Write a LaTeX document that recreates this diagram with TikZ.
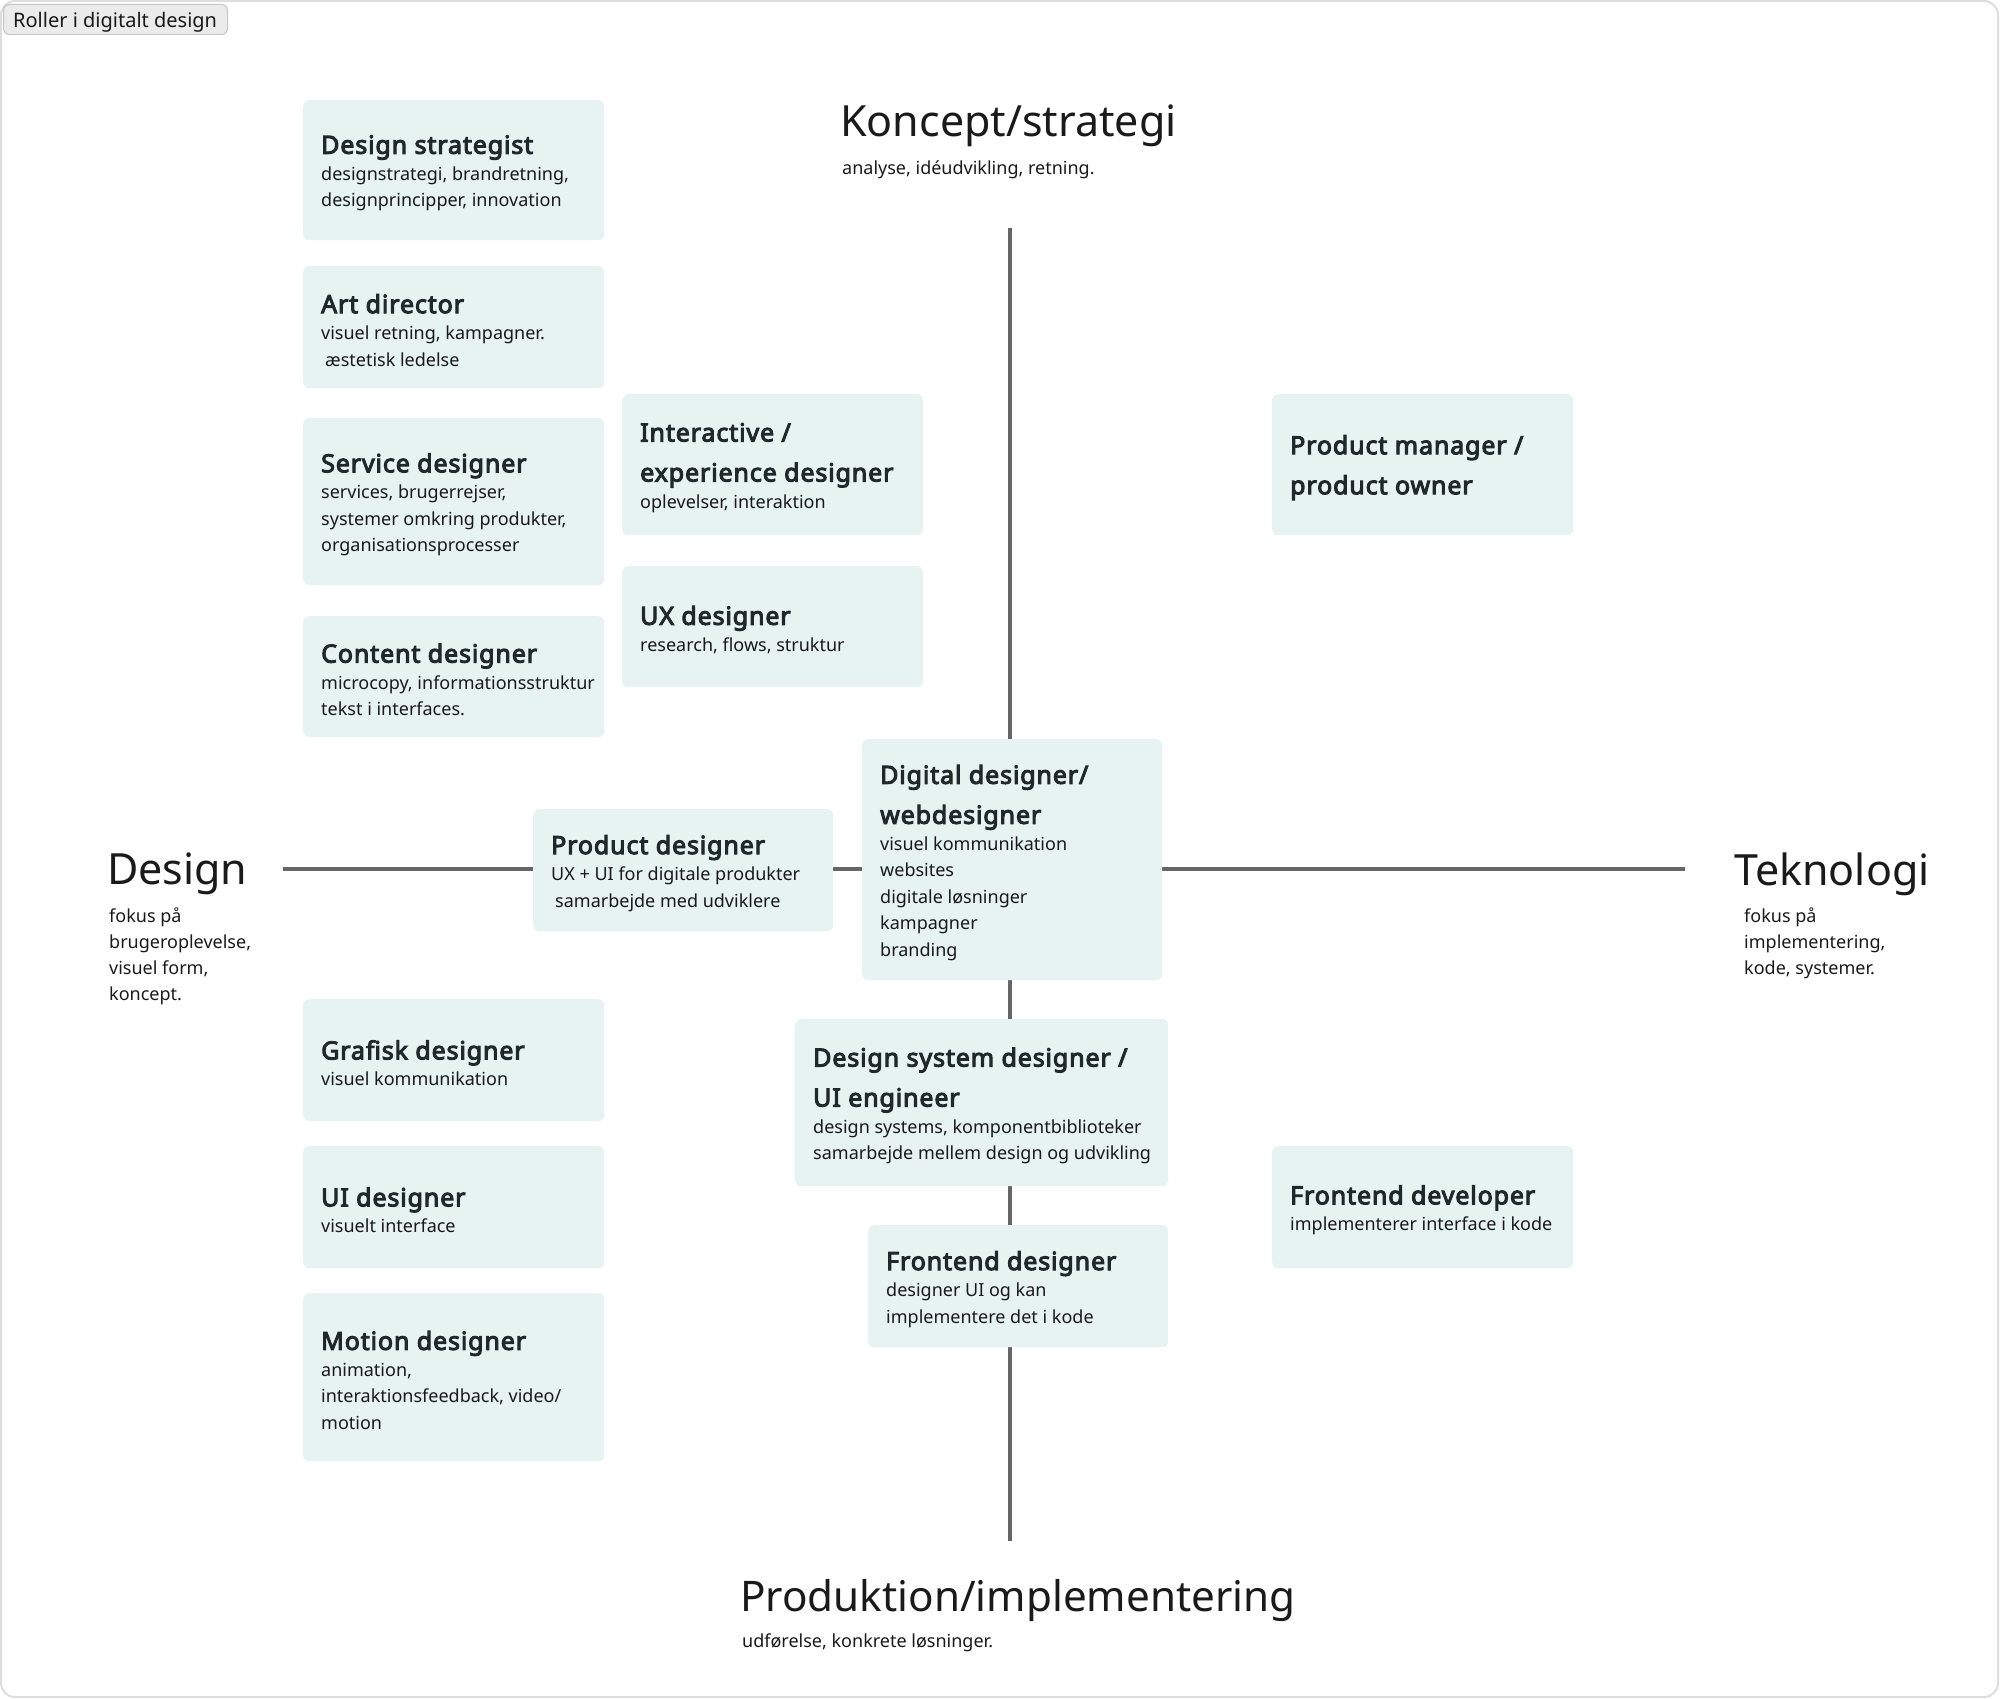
\documentclass[tikz,border=0pt]{standalone}
\usepackage{fontspec}
\setmainfont{Noto Sans}[AutoFakeBold=2.2]
\newfontfamily\rtfont{Noto Sans}[FakeBold=4, LetterSpace=3.5]
\definecolor{boxfill}{HTML}{E6F3F1}
\definecolor{titlecol}{HTML}{1F2929}
\definecolor{txt}{HTML}{1A1A1A}
\definecolor{axiscol}{HTML}{666666}
\definecolor{framecol}{HTML}{DDDDDD}
\definecolor{btnfill}{HTML}{EBEBEB}
\definecolor{btndraw}{HTML}{C6C6C6}
\newcommand\roletitle[1]{{\rtfont\fontsize{25}{40}\selectfont\color{titlecol}#1\par}}
\newcommand\rolesub[1]{{\fontsize{18}{26.5}\selectfont\color{txt}#1\par}}
\newcommand\rolebox[7]{%
  \node[rolebg, minimum width=#4pt, minimum height=#5pt] (#1) at (#2,#3) {};
  \node[roletext] (#1-t) at ([xshift=18pt,yshift=-3pt]#1.west) {\parbox[t]{400pt}{\raggedright #6#7}};
}
\tikzset{
  rolebg/.style={rectangle, fill=boxfill, rounded corners=6pt, anchor=north west, inner sep=0pt, draw=none},
  roletext/.style={anchor=west, inner sep=0pt},
  axlabel/.style={anchor=base west, inner sep=0pt, text=txt, font=\fontsize{43}{50}\selectfont},
  axsub/.style={anchor=base west, inner sep=0pt, text=txt, font=\fontsize{18}{26}\selectfont},
  axisline/.style={draw=axiscol, line width=4pt},
}
\begin{document}
\begin{tikzpicture}[x=1pt, y=-1pt]
\useasboundingbox (0,0) rectangle (2000,1699);
\draw[framecol, line width=2pt, rounded corners=14pt] (1,1) rectangle (1998,1697);
\node[draw=btndraw, fill=btnfill, line width=1pt, rounded corners=6pt, anchor=north west,
      minimum width=224pt, minimum height=30pt, inner sep=0pt] (btn) at (3,4) {};
\node[anchor=base west, inner sep=0pt, text=txt, font=\fontsize{20}{24}\selectfont] (btn-t) at (13,27.5) {Roller i digitalt design};

% axes
\coordinate (vtop) at (1010,228);
\coordinate (vbot) at (1010,1541);
\coordinate (hleft) at (283,868.5);
\coordinate (hright) at (1685,868.5);
\draw[axisline] (vtop) -- (vbot);
\draw[axisline] (hleft) -- (hright);

% axis labels
\node[axlabel] (koncept) at (840,137) {Koncept/strategi};
\node[axsub] (koncept-s) at (842,175) {analyse, idéudvikling, retning.};
\node[axlabel] (design) at (107,884) {Design};
\node[axsub] (design-s) at (109,922) {\parbox[t]{200pt}{\raggedright fokus på\\brugeroplevelse,\\visuel form,\\koncept.}};
\node[axlabel] (tekno) at (1734,885) {Teknologi};
\node[axsub] (tekno-s) at (1744,922) {\parbox[t]{200pt}{\raggedright fokus på\\implementering,\\kode, systemer.}};
\node[axlabel, font=\fontsize{42.2}{50}\selectfont] (prod) at (740,1611) {Produktion/implementering};
\node[axsub] (prod-s) at (742,1647) {udførelse, konkrete løsninger.};

% role boxes
\rolebox{strat}{303}{100}{301}{140}{\roletitle{Design strategist}}{\rolesub{designstrategi, brandretning,\\designprincipper, innovation}}
\rolebox{art}{303}{266}{301}{122}{\roletitle{Art director}}{\rolesub{visuel retning, kampagner.\\\hspace*{4pt}æstetisk ledelse}}
\rolebox{service}{303}{418}{301}{167}{\roletitle{Service designer}}{\rolesub{services, brugerrejser,\\systemer omkring produkter,\\organisationsprocesser}}
\rolebox{content}{303}{616}{301}{121}{\roletitle{Content designer}}{\rolesub{microcopy, informationsstruktur\\tekst i interfaces.}}
\rolebox{inter}{622}{394}{301}{141}{\roletitle{Interactive /\\experience designer}}{\rolesub{oplevelser, interaktion}}
\rolebox{ux}{622}{566}{301}{121}{\roletitle{UX designer}}{\rolesub{research, flows, struktur}}
\rolebox{pm}{1272}{394}{301}{141}{\roletitle{Product manager /\\product owner}}{}
\rolebox{product}{533}{809}{300}{122}{\roletitle{Product designer}}{\rolesub{UX + UI for digitale produkter\\\hspace*{4pt}samarbejde med udviklere}}
\rolebox{digital}{862}{739}{300}{241}{\roletitle{Digital designer/\\webdesigner}}{\rolesub{visuel kommunikation\\websites\\digitale løsninger\\kampagner\\branding}}
\rolebox{grafisk}{303}{999}{301}{122}{\roletitle{Grafisk designer}}{\rolesub{visuel kommunikation}}
\rolebox{ui}{303}{1146}{301}{122}{\roletitle{UI designer}}{\rolesub{visuelt interface}}
\rolebox{motion}{303}{1293}{301}{168}{\roletitle{Motion designer}}{\rolesub{animation,\\interaktionsfeedback, video/\\motion}}
\rolebox{dsys}{795}{1019}{373}{167}{\roletitle{Design system designer /\\UI engineer}}{\rolesub{design systems, komponentbiblioteker\\samarbejde mellem design og udvikling}}
\rolebox{fdes}{868}{1225}{300}{122}{\roletitle{Frontend designer}}{\rolesub{designer UI og kan\\implementere det i kode}}
\rolebox{fdev}{1272}{1146}{301}{122}{\roletitle{Frontend developer}}{\rolesub{implementerer interface i kode}}
\end{tikzpicture}
\end{document}
